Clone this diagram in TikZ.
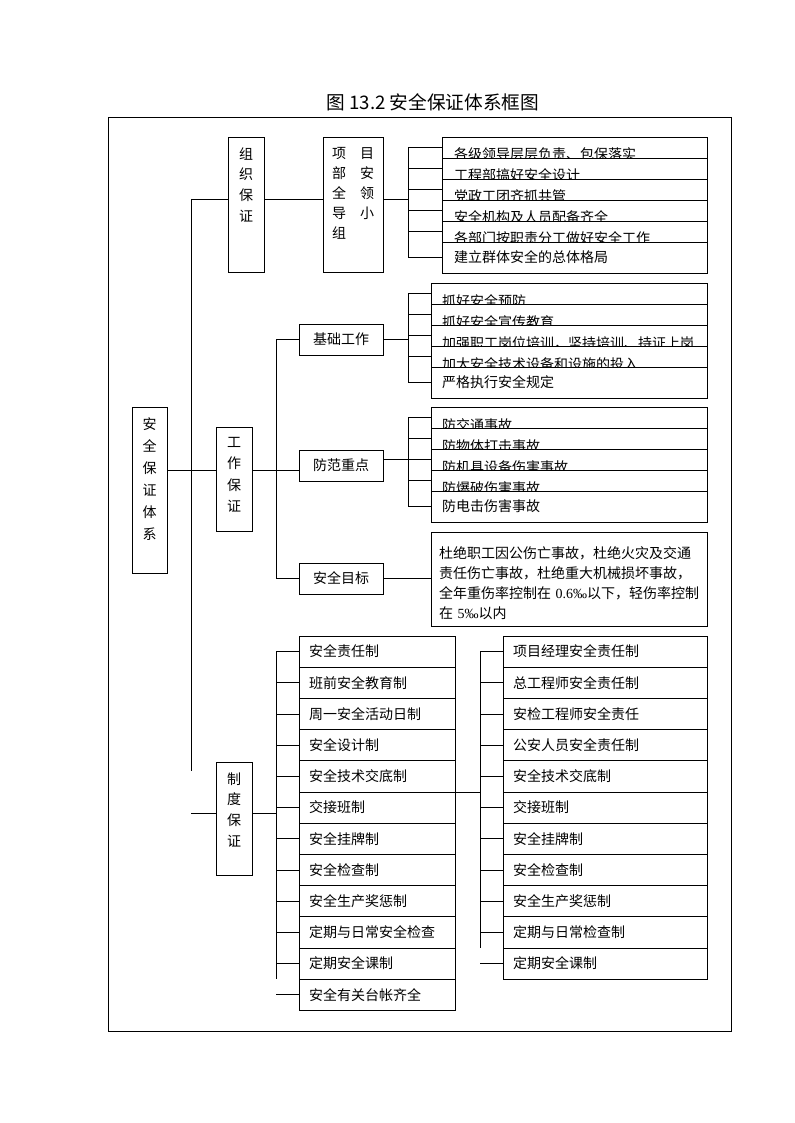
\documentclass[tikz,border=0pt]{standalone}
\usepackage{fontspec}
\setmainfont{Noto Sans CJK SC}
\newfontfamily\numfont{Liberation Serif}
\usepackage{tikz}
\usetikzlibrary{positioning}
\newcommand{\dn}[1]{\raisebox{-1.5pt}{#1}}
\tikzstyle{vbox}=[draw,%
                  rectangle,%
                  inner sep=0pt,%
                  outer sep=0pt]
\tikzstyle{vlab}=[anchor=north,%
                  align=center,%
                  inner sep=0pt,%
                  yshift=-7.5pt,%
                  font=\fontsize{10.5pt}{15.5pt}\selectfont]
\tikzstyle{hbox}=[draw,rectangle,minimum width=63pt,minimum height=23.25pt,inner sep=0pt,outer sep=0pt,font=\fontsize{10.5pt}{15.75pt}\selectfont]
\tikzstyle{cell}=[draw,fill=white,rectangle,outer sep=0pt,inner ysep=0pt,align=left,font=\fontsize{10.5pt}{15.75pt}\selectfont]
\tikzstyle{cut}=[cell,text height=15.75pt,text depth=0pt]
\tikzstyle{tall}=[cell,text height=15.6pt,text depth=7.8pt]
\tikzstyle{wideA}=[text width=180.75pt,inner xsep=9pt]
\tikzstyle{wideB}=[text width=190.5pt,inner xsep=8.25pt]
\tikzstyle{colL}=[text width=102pt,inner xsep=7.5pt]
\tikzstyle{colR}=[text width=138pt,inner xsep=7.5pt]
\begin{document}
\begin{tikzpicture}[x=0.75pt,y=-0.75pt,line width=0.7pt]
\useasboundingbox (0,0) rectangle (794,1123);
\node[font=\fontsize{14pt}{16pt}\selectfont] (title) at (433,102) {图 13.2 安全保证体系框图};
\draw (108,117) rectangle (731,1031);

\node[vbox,minimum width=26.25pt,minimum height=124.5pt,
      label={[vlab,font=\fontsize{10.5pt}{16.5pt}\selectfont]north:安\\全\\保\\证\\体\\系}] (sys) at (149.5,490) {};
\node[vbox,minimum width=27pt,minimum height=101.25pt,
      label={[vlab]north:组\\织\\保\\证}] (org) at (246,204.5) {};
\node[vbox,minimum width=45pt,minimum height=101.25pt,
      label={[vlab,align=left,font=\fontsize{10.5pt}{15pt}\selectfont]north:项\quad 目\\部\quad 安\\全\quad 领\\导\quad 小\\组}] (xm) at (353,204.5) {};
\node[vbox,minimum width=27pt,minimum height=78pt,
      label={[vlab,font=\fontsize{10.5pt}{16pt}\selectfont]north:工\\作\\保\\证}] (gz) at (234,479) {};
\node[vbox,minimum width=27pt,minimum height=84.75pt,
      label={[vlab]north:制\\度\\保\\证}] (zd) at (234,818.5) {};

\node[hbox] (jc) at (341,339.5) {基础工作};
\node[hbox] (ff) at (341,465.5) {防范重点};
\node[hbox] (mb) at (341,578.5) {安全目标};

\node[cut,wideA,anchor=north west] (a1) at (442,137) {\dn{各级领导层层负责、包保落实}};
\node[cut,wideA,below=0pt of a1] (a2) {\dn{工程部搞好安全设计}};
\node[cut,wideA,below=0pt of a2] (a3) {\dn{党政工团齐抓共管}};
\node[cut,wideA,below=0pt of a3] (a4) {\dn{安全机构及人员配备齐全}};
\node[cut,wideA,below=0pt of a4] (a5) {\dn{各部门按职责分工做好安全工作}};
\node[tall,wideA,below=0pt of a5] (a6) {建立群体安全的总体格局};

\node[cut,wideB,anchor=north west] (c1) at (431,283) {\dn{抓好安全预防}};
\node[cut,wideB,below=0pt of c1] (c2) {\dn{抓好安全宣传教育}};
\node[cut,wideB,below=0pt of c2] (c3) {\dn{加强职工岗位培训，坚持培训、持证上岗}};
\node[cut,wideB,below=0pt of c3] (c4) {\dn{加大安全技术设备和设施的投入}};
\node[tall,wideB,below=0pt of c4] (c5) {严格执行安全规定};

\node[cut,wideB,anchor=north west] (f1) at (431,407) {\dn{防交通事故}};
\node[cut,wideB,below=0pt of f1] (f2) {\dn{防物体打击事故}};
\node[cut,wideB,below=0pt of f2] (f3) {\dn{防机具设备伤害事故}};
\node[cut,wideB,below=0pt of f3] (f4) {\dn{防爆破伤害事故}};
\node[tall,wideB,below=0pt of f4] (f5) {防电击伤害事故};

\node[draw,rectangle,text width=195pt,inner xsep=6pt,minimum height=70.5pt,align=left,
      font=\fontsize{10.5pt}{15pt}\selectfont] (mt) at (569,579)
  {\rule{0pt}{15pt}杜绝职工因公伤亡事故，杜绝火灾及交通\\责任伤亡事故，杜绝重大机械损坏事故，\\全年重伤率控制在~{\numfont 0.6‰}以下，轻伤率控制\\在~{\numfont 5‰}以内};

\foreach \t [count=\i] in {安全责任制,班前安全教育制,周一安全活动日制,安全设计制,安全技术交底制,交接班制,
                           安全挂牌制,安全检查制,安全生产奖惩制,定期与日常安全检查,定期安全课制,安全有关台帐齐全}
  \node[tall,colL,anchor=north west] (d\i) at (299,{636+31.2*(\i-1)}) {\t};
\foreach \t [count=\i] in {项目经理安全责任制,总工程师安全责任制,安检工程师安全责任,公安人员安全责任制,安全技术交底制,交接班制,
                           安全挂牌制,安全检查制,安全生产奖惩制,定期与日常检查制,定期安全课制}
  \node[tall,colR,anchor=north west] (e\i) at (503,{636+31.2*(\i-1)}) {\t};

\coordinate (t) at (191,199);
\coordinate (u) at (191,771);
\coordinate (w) at (191,470);
\coordinate (z) at (191,813);
\coordinate (b1) at (408,199);
\coordinate (b2) at (276,470);
\coordinate (b3) at (408,0);
\coordinate (b5) at (276,813);
\coordinate (b6) at (480,0);

\draw (t) -- (u);
\draw (t) -- (org.west |- t);
\draw (org.east |- t) -- (xm.west |- t);
\draw (xm.east |- t) -- (b1);
\draw (b1 |- a1.west) -- (b1 |- a6.west);
\foreach \i in {1,...,6} \draw (b1 |- a\i.west) -- (a\i.west);

\draw (sys.east |- w) -- (gz.west |- w);
\draw (gz.east |- w) -- (b2);
\draw (b2 |- jc.west) -- (b2 |- mb.west);
\draw (b2 |- jc.west) -- (jc.west);
\draw (b2) -- (ff.west |- b2);
\draw (b2 |- mb.west) -- (mb.west);

\draw (jc.east) -- (b3 |- jc.east);
\draw (b3 |- c1.west) -- (b3 |- c5.west);
\foreach \i in {1,...,5} \draw (b3 |- c\i.west) -- (c\i.west);
\draw (ff.east |- f3.west) -- (b3 |- f3.west);
\draw (b3 |- f1.west) -- (b3 |- f5.west);
\foreach \i in {1,...,5} \draw (b3 |- f\i.west) -- (f\i.west);
\draw (mb.east) -- (mt.west |- mb.east);

\draw (z) -- (zd.west |- z);
\draw (zd.east |- z) -- (b5);
\draw (b5 |- d1.west) -- (b5 |- d11.south);
\foreach \i in {1,...,12} \draw (b5 |- d\i.west) -- (d\i.west);
\draw (d5.south east) -- (b6 |- d5.south);
\draw (b6 |- e1.west) -- (b6 |- e10.south);
\foreach \i in {1,...,11} \draw (b6 |- e\i.west) -- (e\i.west);
\end{tikzpicture}
\end{document}
